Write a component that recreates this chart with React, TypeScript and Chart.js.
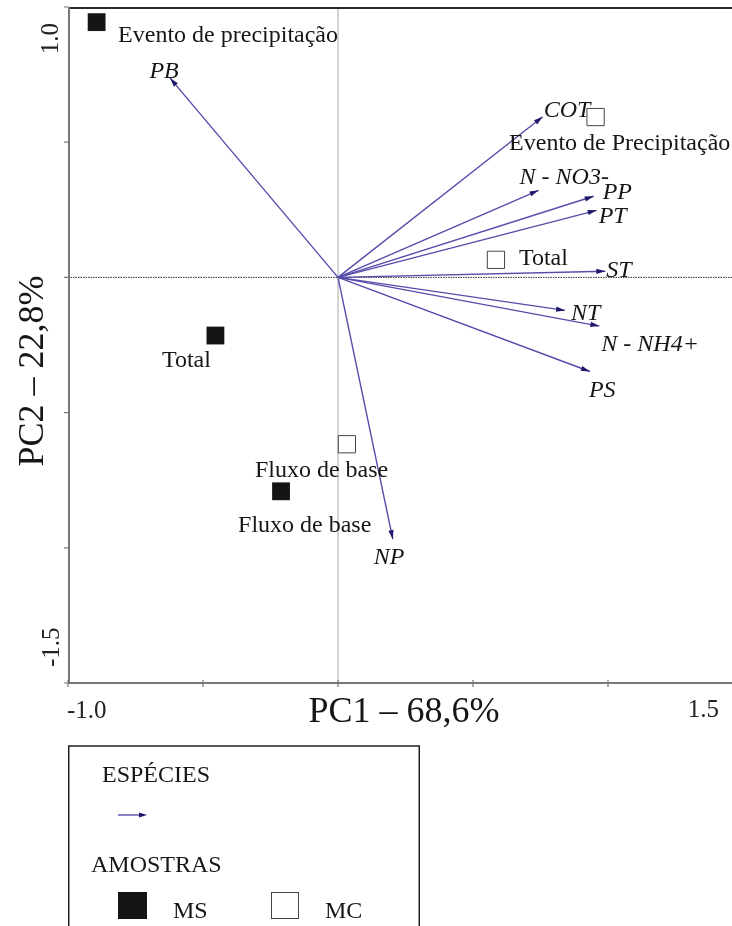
import React, { useEffect, useRef } from "react";
import { Chart, registerables } from "chart.js";
Chart.register(...registerables);

// ---- data ----
const speciesNames = ["PB", "COT", "N - NO3-", "PP", "PT", "ST", "NT", "N - NH4+", "PS", "NP"];
const speciesPC1 = [-0.622, 0.758, 0.743, 0.947, 0.958, 0.99, 0.841, 0.968, 0.933, 0.203];
const speciesPC2 = [0.737, 0.594, 0.322, 0.3, 0.248, 0.023, -0.122, -0.18, -0.348, -0.968];

const msNames = ["Evento de precipitação", "Total", "Fluxo de base"];
const msPC1 = [-0.894, -0.454, -0.211];
const msPC2 = [0.944, -0.215, -0.791];

const mcNames = ["Evento de Precipitação", "Total", "Fluxo de base"];
const mcPC1 = [0.954, 0.585, 0.033];
const mcPC2 = [0.593, 0.065, -0.617];

const xTicks = [-1.0, -0.5, 0, 0.5, 1.0];
const yTicks = [-1.5, -1.0, -0.5, 0, 0.5, 1.0];
const xTickLabels = ["-1.0", "1.5"];
const yTickLabels = ["-1.5", "1.0"];
const xTitle = "PC1 \u2013 68,6%";
const yTitle = "PC2 \u2013 22,8%";
const legendSpecies = "ESPÉCIES";
const legendSamples = "AMOSTRAS";
const legendMS = "MS";
const legendMC = "MC";

// ---- style / layout ----
const SERIF = '"Liberation Serif", "Times New Roman", serif';
const ARROW_LINE = "#564cab";
const ARROW_HEAD = "#1f196c";
const TEXT = "#161616";
// label offsets in px from arrow tip: [dx, dyBaseline, align]
const speciesLabelOffsets: [number, number, CanvasTextAlign][] = [
  [-6, 0, "center"],
  [1, 0, "left"],
  [-19, -6, "left"],
  [9, 3, "left"],
  [2, 13, "left"],
  [1, 6, "left"],
  [6, 10, "left"],
  [2, 25, "left"],
  [-1, 26, "left"],
  [-19, 25, "left"],
];
const msLabelOffsets: [number, number][] = [
  [21.5, 19.5],
  [-53.5, 31],
  [-43, 40.5],
];
const mcLabelOffsets: [number, number][] = [
  [-86.5, 33],
  [23, 5.5],
  [-92, 32.5],
];

const X_MIN = -1.0;
const X_MAX = -1.0 + 664 / 270;
const Y_MIN = -1.5;
const Y_MAX = 1.0;

const customPlugin = {
  id: "ordination",
  beforeDatasetsDraw(chart: any) {
    const ctx = chart.ctx as CanvasRenderingContext2D;
    const { left, right, top, bottom } = chart.chartArea;
    const xs = chart.scales.x;
    const ys = chart.scales.y;
    ctx.save();
    // zero lines
    const x0 = xs.getPixelForValue(0);
    const y0 = ys.getPixelForValue(0);
    ctx.strokeStyle = "#a8a8a8";
    ctx.lineWidth = 1;
    ctx.beginPath();
    ctx.moveTo(x0, top);
    ctx.lineTo(x0, bottom);
    ctx.stroke();
    ctx.strokeStyle = "#333";
    ctx.setLineDash([1.5, 1]);
    ctx.beginPath();
    ctx.moveTo(left, y0);
    ctx.lineTo(right, y0);
    ctx.stroke();
    ctx.setLineDash([]);
    // top frame line
    ctx.strokeStyle = "#2a2a2a";
    ctx.lineWidth = 2;
    ctx.beginPath();
    ctx.moveTo(left, top + 1);
    ctx.lineTo(right, top + 1);
    ctx.stroke();
    // left & bottom axes
    ctx.strokeStyle = "#777";
    ctx.lineWidth = 2;
    ctx.beginPath();
    ctx.moveTo(left + 1, top);
    ctx.lineTo(left + 1, bottom);
    ctx.moveTo(left, bottom);
    ctx.lineTo(right, bottom);
    ctx.stroke();
    ctx.lineWidth = 1.2;
    ctx.beginPath();
    yTicks.forEach((v) => {
      const y = ys.getPixelForValue(v);
      ctx.moveTo(left - 4, y);
      ctx.lineTo(left + 1, y);
    });
    xTicks.forEach((v) => {
      const x = xs.getPixelForValue(v);
      ctx.moveTo(x, bottom - 3);
      ctx.lineTo(x, bottom + 4);
    });
    ctx.stroke();
    ctx.restore();
  },
  afterDatasetsDraw(chart: any) {
    const ctx = chart.ctx as CanvasRenderingContext2D;
    const { right, bottom } = chart.chartArea;
    const xs = chart.scales.x;
    const ys = chart.scales.y;
    ctx.save();
    // arrowheads and species labels
    speciesNames.forEach((name, i) => {
      const meta = chart.getDatasetMeta(i);
      const p0 = meta.data[0];
      const p1 = meta.data[1];
      const ang = Math.atan2(p1.y - p0.y, p1.x - p0.x);
      const L = 9;
      const W = 2.6;
      ctx.fillStyle = ARROW_HEAD;
      ctx.beginPath();
      ctx.moveTo(p1.x, p1.y);
      ctx.lineTo(
        p1.x - L * Math.cos(ang) + W * Math.sin(ang),
        p1.y - L * Math.sin(ang) - W * Math.cos(ang)
      );
      ctx.lineTo(
        p1.x - L * Math.cos(ang) - W * Math.sin(ang),
        p1.y - L * Math.sin(ang) + W * Math.cos(ang)
      );
      ctx.closePath();
      ctx.fill();
      const [dx, dy, align] = speciesLabelOffsets[i];
      ctx.font = `italic 24px ${SERIF}`;
      ctx.fillStyle = TEXT;
      ctx.textAlign = align;
      ctx.textBaseline = "alphabetic";
      ctx.fillText(name, p1.x + dx, p1.y + dy);
    });
    // sample labels
    ctx.font = `24px ${SERIF}`;
    ctx.textAlign = "left";
    ctx.fillStyle = TEXT;
    const msIdx = speciesNames.length;
    const mcIdx = speciesNames.length + 1;
    chart.getDatasetMeta(msIdx).data.forEach((p: any, i: number) => {
      ctx.fillText(msNames[i], p.x + msLabelOffsets[i][0], p.y + msLabelOffsets[i][1]);
    });
    chart.getDatasetMeta(mcIdx).data.forEach((p: any, i: number) => {
      ctx.fillText(mcNames[i], p.x + mcLabelOffsets[i][0], p.y + mcLabelOffsets[i][1]);
    });
    // tick labels
    ctx.font = `25px ${SERIF}`;
    ctx.fillStyle = "#222";
    ctx.textAlign = "left";
    ctx.fillText(xTickLabels[0], xs.getPixelForValue(X_MIN) - 1, bottom + 35);
    ctx.textAlign = "right";
    ctx.fillText(xTickLabels[1], right - 13, bottom + 34);
    // y tick labels rotated
    ctx.save();
    ctx.translate(59, ys.getPixelForValue(Y_MIN) - 16);
    ctx.rotate(-Math.PI / 2);
    ctx.textAlign = "left";
    ctx.fillText(yTickLabels[0], 0, 0);
    ctx.restore();
    ctx.save();
    ctx.translate(58, ys.getPixelForValue(Y_MAX) + 16);
    ctx.rotate(-Math.PI / 2);
    ctx.textAlign = "right";
    ctx.fillText(yTickLabels[1], 0, 0);
    ctx.restore();
    // axis titles
    ctx.font = `36px ${SERIF}`;
    ctx.fillStyle = TEXT;
    ctx.textAlign = "center";
    ctx.fillText(xTitle, 404, bottom + 39);
    ctx.save();
    ctx.translate(43, 371);
    ctx.rotate(-Math.PI / 2);
    ctx.fillText(yTitle, 0, 0);
    ctx.restore();
    // legend box
    ctx.strokeStyle = "#222";
    ctx.lineWidth = 1.5;
    ctx.strokeRect(68.75, 746, 350.5, 220);
    ctx.font = `24px ${SERIF}`;
    ctx.fillStyle = TEXT;
    ctx.textAlign = "left";
    ctx.fillText(legendSpecies, 102, 782);
    ctx.fillText(legendSamples, 91, 872);
    ctx.fillText(legendMS, 173, 918);
    ctx.fillText(legendMC, 325, 918);
    // legend arrow
    ctx.strokeStyle = ARROW_LINE;
    ctx.lineWidth = 1.4;
    ctx.beginPath();
    ctx.moveTo(118, 815);
    ctx.lineTo(141, 815);
    ctx.stroke();
    ctx.fillStyle = ARROW_HEAD;
    ctx.beginPath();
    ctx.moveTo(147, 815);
    ctx.lineTo(139, 812.4);
    ctx.lineTo(139, 817.6);
    ctx.closePath();
    ctx.fill();
    // legend squares
    ctx.fillStyle = "#151515";
    ctx.fillRect(118, 892, 29, 27);
    ctx.strokeStyle = "#444";
    ctx.lineWidth = 1;
    ctx.strokeRect(271.5, 892.5, 27, 26);
    ctx.restore();
  },
};

export default function App() {
  const ref = useRef<HTMLCanvasElement | null>(null);
  useEffect(() => {
    if (!ref.current) return;
    const speciesSets = speciesNames.map((name, i) => ({
      type: "line" as const,
      label: name,
      data: [
        { x: 0, y: 0 },
        { x: speciesPC1[i], y: speciesPC2[i] },
      ],
      borderColor: ARROW_LINE,
      borderWidth: 1.4,
      pointRadius: 0,
      fill: false,
      tension: 0,
    }));
    const chart = new Chart(ref.current, {
      type: "scatter",
      data: {
        datasets: [
          ...speciesSets,
          {
            type: "scatter" as const,
            label: "MS",
            data: msPC1.map((x, i) => ({ x, y: msPC2[i] })),
            pointStyle: "rect",
            pointRadius: 12.6,
            backgroundColor: "#151515",
            borderColor: "#151515",
            borderWidth: 0,
          },
          {
            type: "scatter" as const,
            label: "MC",
            data: mcPC1.map((x, i) => ({ x, y: mcPC2[i] })),
            pointStyle: "rect",
            pointRadius: 12.2,
            backgroundColor: "#ffffff",
            borderColor: "#444",
            borderWidth: 1,
          },
        ] as any,
      },
      options: {
        animation: false,
        responsive: false,
        devicePixelRatio: 1,
        layout: { autoPadding: false, padding: { left: 68, top: 7, right: 0, bottom: 243 } },
        scales: {
          x: { type: "linear", min: X_MIN, max: X_MAX, display: false },
          y: { type: "linear", min: Y_MIN, max: Y_MAX, display: false },
        },
        plugins: {
          legend: { display: false },
          tooltip: { enabled: false },
        },
        events: [],
      },
      plugins: [customPlugin],
    });
    return () => chart.destroy();
  }, []);
  return (
    <div style={{ position: "absolute", left: 0, top: 0, width: 732, height: 926, overflow: "hidden", background: "#fff" }}>
      <canvas ref={ref} width={732} height={926} style={{ display: "block" }} />
    </div>
  );
}
